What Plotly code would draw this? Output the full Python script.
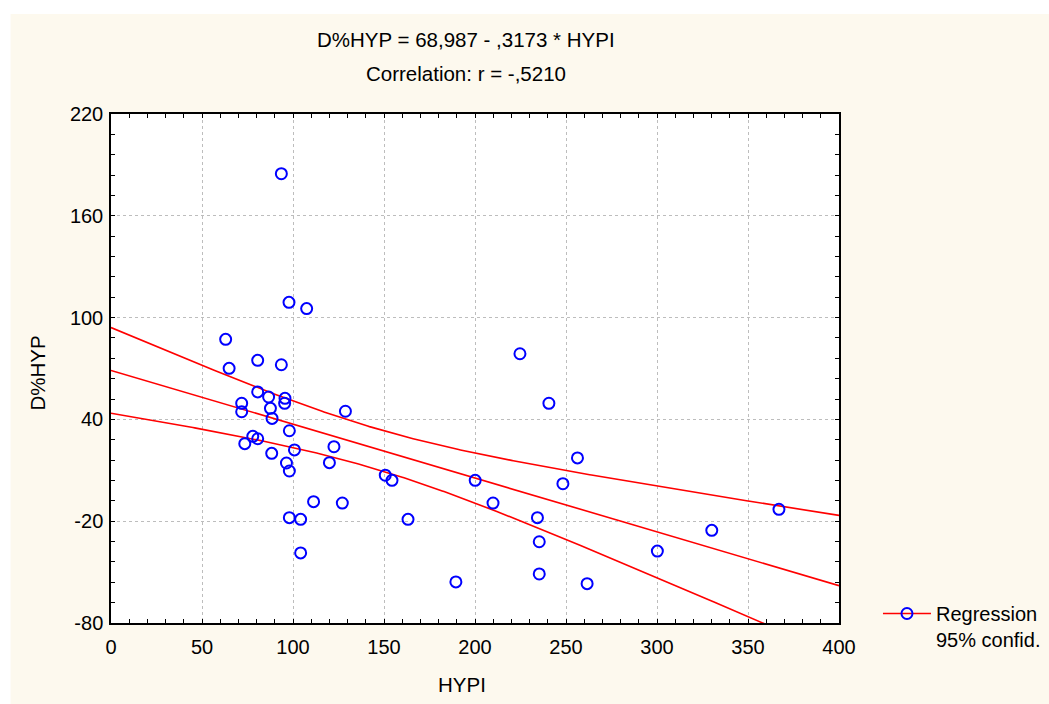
import numpy as np
import plotly.graph_objects as go

# Data
hypi = [93.6, 97.8, 107.5, 63.0, 64.9, 80.6, 93.6, 80.6, 86.6, 95.6,
        95.4, 71.8, 71.8, 87.6, 88.5, 128.8, 98.0, 77.9, 80.6, 73.5,
        100.8, 122.5, 88.3, 96.4, 98.0, 120.0, 150.7, 154.4, 111.3, 127.1,
        98.0, 104.2, 104.2, 224.7, 240.6, 256.3, 200.1, 248.3, 209.9, 163.2,
        234.3, 367.0, 330.1, 235.3, 300.2, 189.5, 235.3, 261.6]
dhyp = [184.8, 109.0, 105.3, 87.2, 70.1, 74.8, 72.2, 56.2, 53.2, 52.4,
        49.5, 49.5, 44.5, 46.5, 40.6, 44.8, 33.3, 30.0, 28.6, 25.7,
        22.0, 23.9, 20.0, 14.3, 9.6, 14.5, 7.1, 4.1, -8.5, -9.3,
        -17.9, -18.9, -38.7, 78.7, 49.5, 17.3, 4.1, 2.1, -9.3, -18.9,
        -17.9, -13.0, -25.4, -32.1, -37.6, -55.8, -51.1, -56.8]

title_line1 = "D%HYP = 68,987 - ,3173 * HYPI"
title_line2 = "Correlation: r = -,5210"
x_title = "HYPI"
y_title = "D%HYP"
legend_label = "Regression<br>95% confid."
x_ticks = [0, 50, 100, 150, 200, 250, 300, 350, 400]
y_ticks = [-80, -20, 40, 100, 160, 220]

# Regression and 95% confidence band derived from the data
x = np.array(hypi)
y = np.array(dhyp)
n = len(x)
b, a = np.polyfit(x, y, 1)
resid = y - (a + b * x)
s = np.sqrt(np.sum(resid ** 2) / (n - 2))
xbar = x.mean()
sxx = np.sum((x - xbar) ** 2)
t_crit = 2.013
xs = np.linspace(0, 400, 401)
yfit = a + b * xs
half = t_crit * s * np.sqrt(1.0 / n + (xs - xbar) ** 2 / sxx)

FONT = "Liberation Sans, Arial, Helvetica, sans-serif"
RED = "#FF0000"
BLUE = "#0000FF"
CREAM = "#FDF9EE"

fig = go.Figure()
for yy in (yfit, yfit + half, yfit - half):
    fig.add_trace(go.Scatter(x=xs, y=yy, mode="lines", line=dict(color=RED, width=1.6),
                             showlegend=False, hoverinfo="skip"))
fig.add_trace(go.Scatter(x=hypi, y=dhyp, mode="markers",
                         marker=dict(symbol="circle-open", size=11, color=BLUE,
                                     line=dict(color=BLUE, width=2)),
                         showlegend=False))
# legend entry
fig.add_trace(go.Scatter(x=[None], y=[None], mode="lines+markers",
                         name=legend_label,
                         line=dict(color=RED, width=1.6),
                         marker=dict(symbol="circle-open", size=11, color=BLUE,
                                     line=dict(color=BLUE, width=2))))

L, R, T, B = 110.5, 210, 114, 81
W, H = 1049, 704
pw, ph = W - L - R, H - T - B

def px_to_paper_x(px):
    return (px - L) / pw

def py_to_paper_y(py):
    return (H - B - py) / ph

axis_common = dict(
    showline=True, linecolor="black", linewidth=1.5, mirror="allticks",
    ticks="inside", ticklen=4, tickcolor="black", tickwidth=1,
    showgrid=True, gridcolor="#BDBDBD", griddash="dot", gridwidth=1,
    zeroline=False, tickfont=dict(family=FONT, size=20, color="black"),
)

fig.update_layout(
    width=W, height=H,
    margin=dict(l=L, r=R, t=T, b=B, autoexpand=False),
    paper_bgcolor=CREAM,
    plot_bgcolor="white",
    font=dict(family=FONT, size=20, color="black"),
    xaxis=dict(range=[0, 400], tickvals=x_ticks, ticktext=[str(v) for v in x_ticks],
               ticklabelstandoff=5,
               minor=dict(dtick=10, ticks="inside", ticklen=4, tickcolor="black", showgrid=False),
               **axis_common),
    yaxis=dict(range=[-80, 220], tickvals=y_ticks, ticktext=[str(v) for v in y_ticks],
               ticklabelstandoff=2,
               minor=dict(dtick=12, tick0=-80, ticks="inside", ticklen=4, tickcolor="black", showgrid=False),
               **axis_common),
    legend=dict(x=px_to_paper_x(878), y=py_to_paper_y(594), xanchor="left", yanchor="top",
                bgcolor="rgba(0,0,0,0)", font=dict(family=FONT, size=20, color="black"),
                valign="top", itemwidth=48),
    shapes=[
        dict(type="rect", xref="paper", yref="paper", layer="below",
             x0=px_to_paper_x(-5), x1=px_to_paper_x(W + 5),
             y0=py_to_paper_y(14), y1=py_to_paper_y(-5),
             fillcolor="white", line=dict(width=0)),
        dict(type="rect", xref="paper", yref="paper", layer="below",
             x0=px_to_paper_x(-5), x1=px_to_paper_x(10),
             y0=py_to_paper_y(H + 5), y1=py_to_paper_y(-5),
             fillcolor="white", line=dict(width=0)),
    ],
    annotations=[
        dict(text=title_line1, xref="paper", yref="paper", x=px_to_paper_x(465.5), y=py_to_paper_y(39),
             showarrow=False, xanchor="center", yanchor="middle",
             font=dict(family=FONT, size=20.5, color="black")),
        dict(text=title_line2, xref="paper", yref="paper", x=px_to_paper_x(465.5), y=py_to_paper_y(73),
             showarrow=False, xanchor="center", yanchor="middle",
             font=dict(family=FONT, size=20.5, color="black")),
        dict(text=x_title, xref="paper", yref="paper", x=px_to_paper_x(462), y=py_to_paper_y(684),
             showarrow=False, xanchor="center", yanchor="middle",
             font=dict(family=FONT, size=20.5, color="black")),
        dict(text=y_title, xref="paper", yref="paper", x=px_to_paper_x(36), y=py_to_paper_y(373),
             showarrow=False, xanchor="center", yanchor="middle", textangle=-90,
             font=dict(family=FONT, size=20.5, color="black")),
    ],
)

fig.write_html("out.html")
